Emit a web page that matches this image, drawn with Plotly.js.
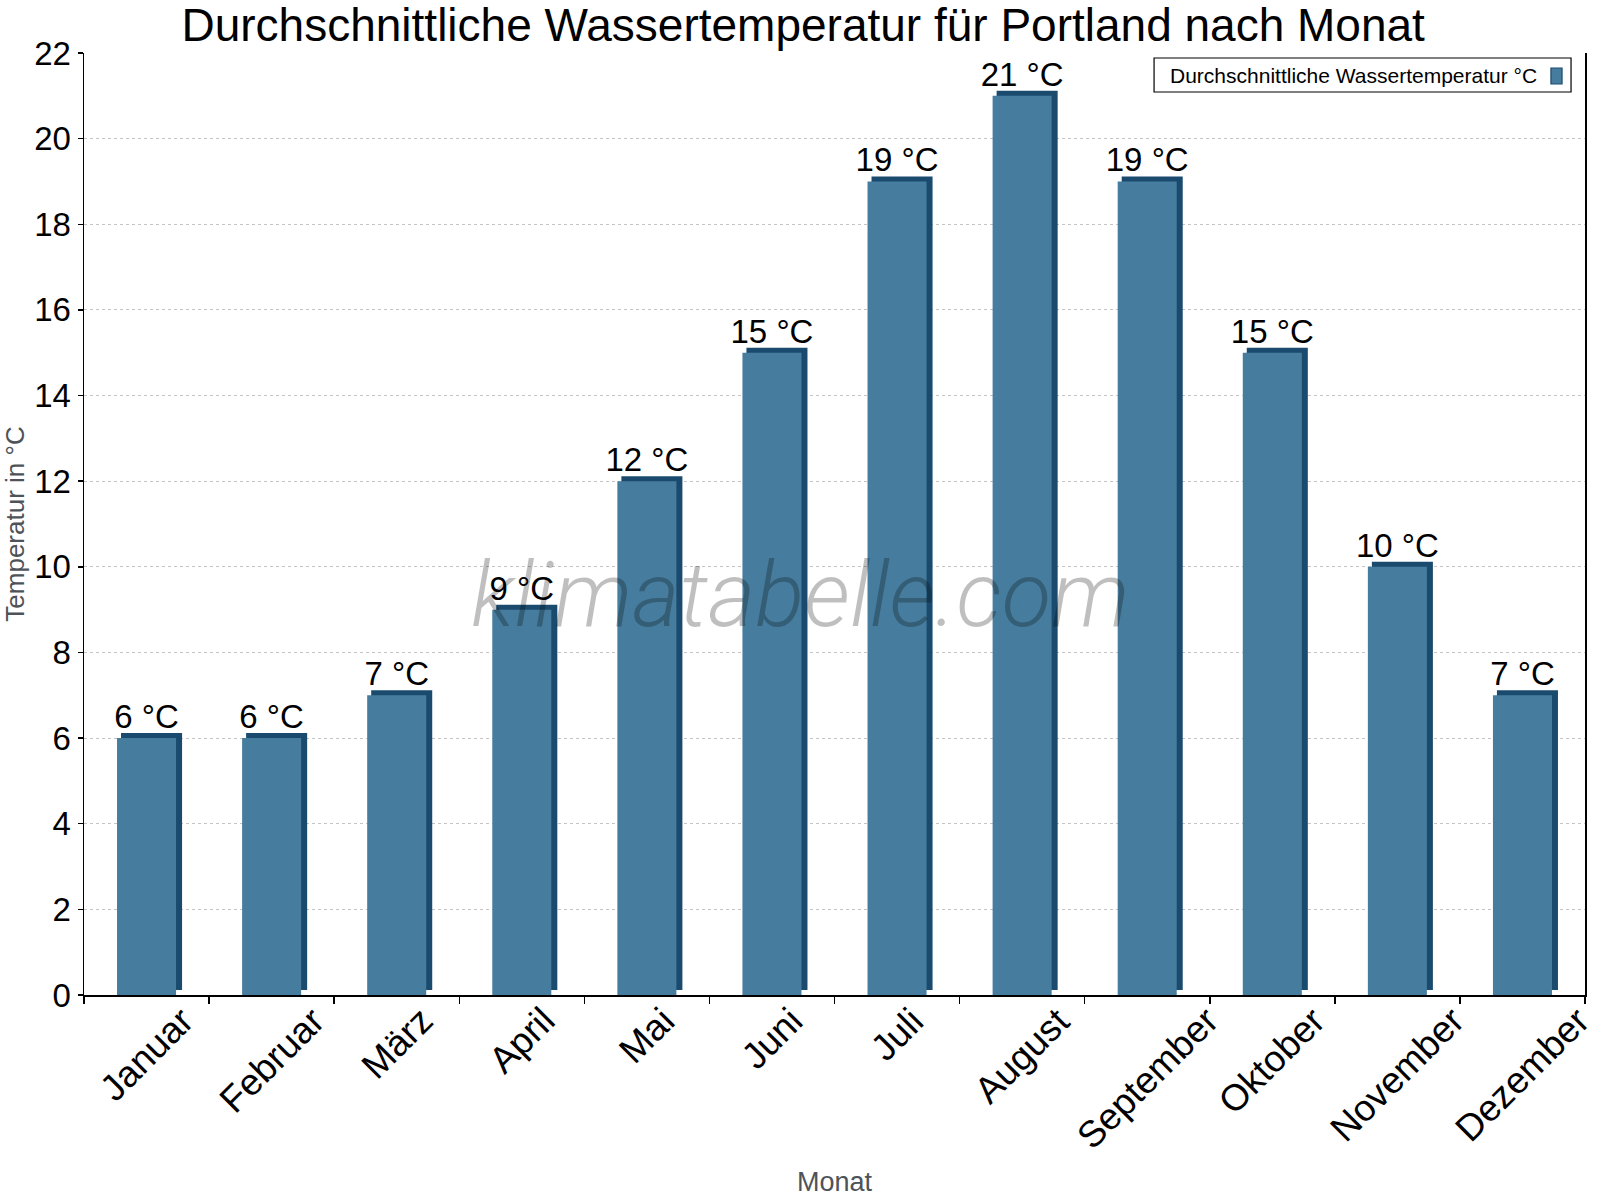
<!DOCTYPE html>
<html>
<head>
<meta charset="utf-8">
<script src="https://cdn.plot.ly/plotly-3.0.1.min.js"></script>
<style>
  html, body { margin: 0; padding: 0; background: #fff; }
  #chart { width: 1600px; height: 1200px; }
</style>
</head>
<body>
<div id="chart"></div>
<script>
"use strict"
// Monate und Wassertemperatur (°C)
let months = ['Januar', 'Februar', 'März', 'April', 'Mai', 'Juni', 'Juli', 'August', 'September', 'Oktober', 'November', 'Dezember'];
let temps = [6, 6, 7, 9, 12, 15, 19, 21, 19, 15, 10, 7];
let labels = temps.map(t => t + ' °C');
let yTicks = [0, 2, 4, 6, 8, 10, 12, 14, 16, 18, 20, 22];

const FONT = 'Liberation Sans, Arial, sans-serif';
const FRONT = '#467c9e';
const DARK = '#1a4b6e';
const DEPTH = 0.117;   // 3D-Tiefe in Achseneinheiten (~5px)

// dunkle Seite/Oberkante hinter dem Balken
var side = {
    x: months,
    y: temps,
    base: DEPTH,
    type: 'bar',
    width: 0.488,
    offset: -0.204,
    hoverinfo: 'none',
    showlegend: false,
    marker: { color: DARK, line: { width: 0 } }
};

var front = {
    x: months,
    y: temps,
    type: 'bar',
    width: 0.472,
    offset: -0.236,
    text: labels,
    textposition: 'outside',
    constraintext: 'none',
    cliponaxis: false,
    textfont: { family: FONT, size: 33, color: '#000' },
    hoverinfo: 'none',
    showlegend: false,
    marker: { color: FRONT, line: { width: 0 } }
};

var data = [side, front];

// Monatsnamen als gedrehte, zentrierte Beschriftung
let monthNotes = months.map(m => ({
    x: m, xref: 'x', y: 0, yref: 'paper',
    text: m, showarrow: false, textangle: -45,
    xanchor: 'center', yanchor: 'top', yshift: -2,
    font: { family: FONT, size: 37, color: '#000' }
}));

var layout = {
    width: 1600,
    height: 1200,
    barmode: 'overlay',
    paper_bgcolor: '#fff',
    plot_bgcolor: '#fff',
    margin: { l: 84, r: 15, t: 53, b: 205 },
    showlegend: false,
    title: {
        text: 'Durchschnittliche Wassertemperatur für Portland nach Monat',
        font: { family: FONT, size: 46, color: '#000' },
        x: 0.502, xref: 'container', xanchor: 'center',
        y: 0.993, yref: 'container', yanchor: 'top'
    },
    xaxis: {
        type: 'category',
        range: [-0.5, 11.5],
        showline: true, linecolor: '#000', linewidth: 1.5,
        ticks: 'outside', tickson: 'boundaries', ticklen: 7, tickcolor: '#000', tickwidth: 1.5,
        showticklabels: false,
        showgrid: false,
        zeroline: false,
        title: { text: 'Monat', font: { family: FONT, size: 27, color: '#4d5358' }, standoff: 176 }
    },
    yaxis: {
        range: [0, 22],
        tickvals: yTicks,
        showline: true, mirror: true, linecolor: '#000', linewidth: 1.5,
        ticks: 'outside', ticklen: 5, tickcolor: '#000', tickwidth: 1.5,
        tickfont: { family: FONT, size: 33, color: '#000' },
        showgrid: true, gridcolor: '#c4c4c4', griddash: 'dot', gridwidth: 1,
        zeroline: false,
        title: { text: 'Temperatur in °C', font: { family: FONT, size: 26, color: '#4d5358' }, standoff: 3 }
    },
    shapes: [
        // Legendenrahmen
        { type: 'rect', xref: 'paper', yref: 'paper', x0: 0.7129, x1: 0.9907, y0: 0.9586, y1: 0.9947,
          fillcolor: '#fff', line: { color: '#000', width: 1.2 }, layer: 'above' },
        // Legendensymbol
        { type: 'rect', xref: 'paper', yref: 'paper', x0: 0.9773, x1: 0.9847, y0: 0.9671, y1: 0.9841,
          fillcolor: FRONT, line: { color: DARK, width: 1.2 }, layer: 'above' }
    ],
    annotations: monthNotes.concat([
        {
            x: 0.7222, xref: 'paper', y: 0.9766, yref: 'paper',
            text: 'Durchschnittliche Wassertemperatur °C', showarrow: false,
            xanchor: 'left', yanchor: 'middle',
            font: { family: FONT, size: 21, color: '#000' }
        },
        {
            x: 0.4775, xref: 'paper', y: 0.425, yref: 'paper',
            text: 'klimatabelle.com', showarrow: false,
            xanchor: 'center', yanchor: 'middle',
            font: { family: 'Roboto', size: 91, color: 'rgba(0,0,0,0.25)', weight: 300, style: 'italic' }
        }
    ])
};

Plotly.newPlot(document.getElementById('chart'), data, layout, { staticPlot: true });
</script>
</body>
</html>
